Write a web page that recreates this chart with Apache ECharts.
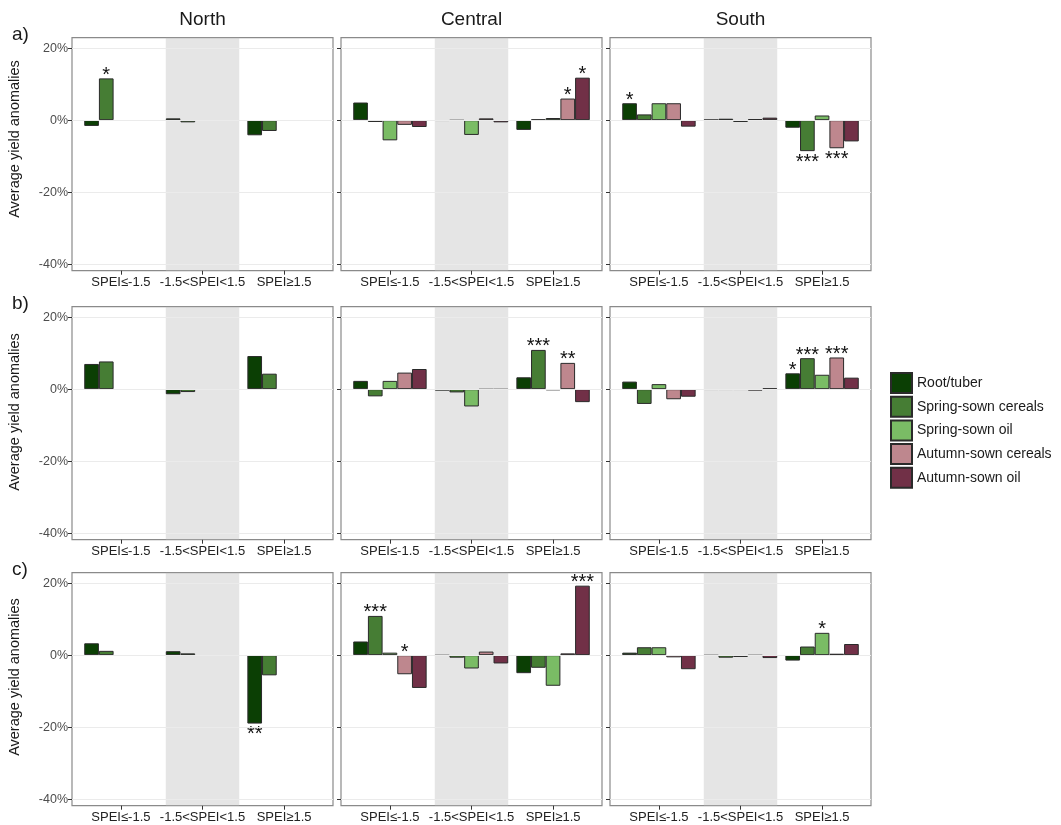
<!DOCTYPE html>
<html>
<head>
<meta charset="utf-8">
<script src="https://cdn.jsdelivr.net/npm/echarts@6/dist/echarts.min.js"></script>
<style>
  html, body { margin: 0; padding: 0; background: #fff; }
  #chart { width: 1061px; height: 825px; }
</style>
</head>
<body>
<div id="chart"></div>
<script>
// ---- data ----
const categories = ['SPEI\u2264-1.5', '-1.5<SPEI<1.5', 'SPEI\u22651.5'];
const crops = ['Root/tuber', 'Spring-sown cereals', 'Spring-sown oil', 'Autumn-sown cereals', 'Autumn-sown oil'];
const regions = ['North', 'Central', 'South'];
const rowTags = ['a)', 'b)', 'c)'];
const yTicks = [-40, -20, 0, 20];

// yield anomalies (%) per crop type: [SPEI<=-1.5, -1.5<SPEI<1.5, SPEI>=1.5]
const a_north = [[-1.6, 0.5, -4.2], [11.6, -0.6, -3.0], [null, null, null], [null, null, null], [null, null, null]];
const a_central = [[4.9, -0.2, -2.7], [-0.5, -0.1, 0.2], [-5.6, -4.1, 0.6], [-1.3, 0.5, 6.0], [-1.9, -0.6, 11.8]];
const a_south = [[4.7, 0.1, -2.1], [1.6, 0.4, -8.6], [4.7, -0.5, 1.3], [4.7, 0.3, -7.8], [-1.8, 0.7, -5.9]];

const b_north = [[7.0, -1.4, 9.2], [7.7, -0.8, 4.3], [null, null, null], [null, null, null], [null, null, null]];
const b_central = [[2.3, -0.4, 3.3], [-2.0, -0.9, 10.9], [2.3, -4.8, -0.3], [4.6, -0.1, 7.3], [5.6, -0.1, -3.6]];
const b_south = [[2.1, -0.2, 4.4], [-4.1, -0.2, 8.6], [1.4, -0.2, 4.0], [-2.8, -0.4, 8.8], [-2.1, 0.2, 3.2]];

const c_north = [[3.3, 1.1, -19.0], [1.2, 0.5, -5.6], [null, null, null], [null, null, null], [null, null, null]];
const c_central = [[3.8, -0.1, -5.0], [10.9, -0.7, -3.5], [0.7, -3.7, -8.5], [-5.3, 1.0, 0.5], [-9.1, -2.3, 19.3]];
const c_south = [[0.7, -0.1, -1.5], [2.2, -0.7, 2.4], [2.2, -0.5, 6.2], [-0.6, -0.1, 0.4], [-3.9, -0.8, 3.1]];

const panelValues = [
  [a_north, a_central, a_south],
  [b_north, b_central, b_south],
  [c_north, c_central, c_south]
];

// significance marks: [row, region column, crop index, category index, stars, side]
const significance = [
  [0, 0, 1, 0, '*', 'up'],
  [0, 1, 3, 2, '*', 'up'],
  [0, 1, 4, 2, '*', 'up'],
  [0, 2, 0, 0, '*', 'up'],
  [0, 2, 1, 2, '***', 'down'],
  [0, 2, 3, 2, '***', 'down'],
  [1, 1, 1, 2, '***', 'up'],
  [1, 1, 3, 2, '**', 'up'],
  [1, 2, 0, 2, '*', 'up'],
  [1, 2, 1, 2, '***', 'up'],
  [1, 2, 3, 2, '***', 'up'],
  [2, 0, 0, 2, '**', 'down'],
  [2, 1, 1, 0, '***', 'up'],
  [2, 1, 3, 0, '*', 'up'],
  [2, 1, 4, 2, '***', 'up'],
  [2, 2, 2, 2, '*', 'up']
];

// ---- styling / layout ----
const cropColors = ['#0b3f04', '#467d34', '#7abc65', '#be878e', '#713047'];
const FONT = 'Liberation Sans, Arial, Helvetica, sans-serif';
const colX = [72, 341, 610];
const rowY = [37.7, 306.7, 572.7];
const FW = 261, FH = 233;
const Y_TOP = 22.9, Y_BOT = -41.8;     // full panel extent (%)
const X_MIN = 0.4, X_MAX = 3.6;        // panel extent in category units
const titleY = [139, 412, 677];

const option = {
  animation: false,
  textStyle: { fontFamily: FONT },
  grid: [], xAxis: [], yAxis: [], series: [], graphic: [],
  legend: {
    data: crops,
    orient: 'vertical',
    left: 890, top: 372,
    padding: 0,
    itemWidth: 21, itemHeight: 20, itemGap: 1.7,
    icon: 'rect',
    selectedMode: false,
    textStyle: { fontSize: 14, color: '#1a1a1a', fontFamily: FONT }
  }
};

rowTags.forEach((tag, r) => {
  regions.forEach((reg, c) => {
    const fx = colX[c], fy = rowY[r];
    const ux = FW / (X_MAX - X_MIN);
    const uy = FH / (Y_TOP - Y_BOT);
    const vals = panelValues[r][c];

    // panel frame with background grid lines and the shaded middle band
    const gOuter = option.grid.length;
    option.grid.push({ left: fx, top: fy, width: FW, height: FH, show: true,
      borderColor: '#8a8a8a', borderWidth: 1.2, backgroundColor: 'transparent' });
    option.xAxis.push({ gridIndex: gOuter, type: 'value', min: X_MIN, max: X_MAX, show: false });
    option.yAxis.push({ gridIndex: gOuter, type: 'value', min: Y_BOT, max: Y_TOP, show: false });
    option.series.push({
      type: 'line', xAxisIndex: gOuter, yAxisIndex: gOuter, data: [], silent: true, z: 1,
      markLine: { silent: true, symbol: ['none', 'none'], label: { show: false },
        lineStyle: { color: '#ebebeb', width: 1, type: 'solid' },
        data: yTicks.map(v => ({ yAxis: v })) }
    });
    option.series.push({
      type: 'line', xAxisIndex: gOuter, yAxisIndex: gOuter, data: [], silent: true, z: 10,
      markArea: { silent: true, itemStyle: { color: 'rgba(190,190,190,0.4)' },
        data: [[{ xAxis: 1.55, yAxis: Y_BOT }, { xAxis: 2.45, yAxis: Y_TOP }]] }
    });

    // data area: categories span 0.5..3.5, values -40..20
    const gInner = option.grid.length;
    option.grid.push({ left: fx + (0.5 - X_MIN) * ux, top: fy + (Y_TOP - 20) * uy,
      width: 3 * ux, height: 60 * uy });
    option.xAxis.push({
      gridIndex: gInner, type: 'category', data: categories, position: 'bottom',
      offset: (-40 - Y_BOT) * uy,
      axisLine: { show: false, onZero: false },
      axisTick: { show: true, alignWithLabel: true, length: 4, lineStyle: { color: '#333' } },
      axisLabel: { fontSize: 13, color: '#222', margin: 5, interval: 0 }
    });
    option.yAxis.push({
      gridIndex: gInner, type: 'value', min: -40, max: 20, interval: 20, position: 'left',
      offset: (0.5 - X_MIN) * ux,
      axisLine: { show: false, onZero: false },
      axisTick: { show: true, length: 4, lineStyle: { color: '#333' } },
      splitLine: { show: false },
      axisLabel: { show: c === 0, formatter: '{value}%', fontSize: 12.5, color: '#4d4d4d', margin: 4 }
    });

    crops.forEach((crop, k) => {
      option.series.push({
        type: 'bar', name: crop, xAxisIndex: gInner, yAxisIndex: gInner,
        barGap: '0%', barCategoryGap: '10%', z: 2,
        itemStyle: { color: cropColors[k], borderColor: '#2a2a2a', borderWidth: 1 },
        data: vals[k].map((v, i) => {
          const s = significance.find(e => e[0] === r && e[1] === c && e[2] === k && e[3] === i);
          if (!s) return { value: v };
          const up = s[5] === 'up';
          return { value: v, label: {
            show: true, formatter: s[4], position: up ? 'top' : 'bottom',
            distance: up ? -7 : 1, fontSize: 20, color: '#111', fontFamily: FONT } };
        })
      });
    });

    if (r === 0) {
      option.graphic.push({ type: 'text', x: fx + FW / 2, y: 20,
        style: { text: reg, font: '19px ' + FONT, fill: '#1a1a1a', textAlign: 'center', textVerticalAlign: 'middle' } });
    }
  });

  option.graphic.push({ type: 'text', x: 12, y: rowY[r] - 3,
    style: { text: tag, font: '19px ' + FONT, fill: '#1a1a1a', textAlign: 'left', textVerticalAlign: 'middle' } });
  option.graphic.push({ type: 'text', x: 15, y: titleY[r], rotation: Math.PI / 2,
    style: { text: 'Average yield anomalies', font: '14.5px ' + FONT, fill: '#1a1a1a', textAlign: 'center', textVerticalAlign: 'middle' } });
});

const chart = echarts.init(document.getElementById('chart'), null, { renderer: 'canvas' });
chart.setOption(option);
</script>
</body>
</html>
